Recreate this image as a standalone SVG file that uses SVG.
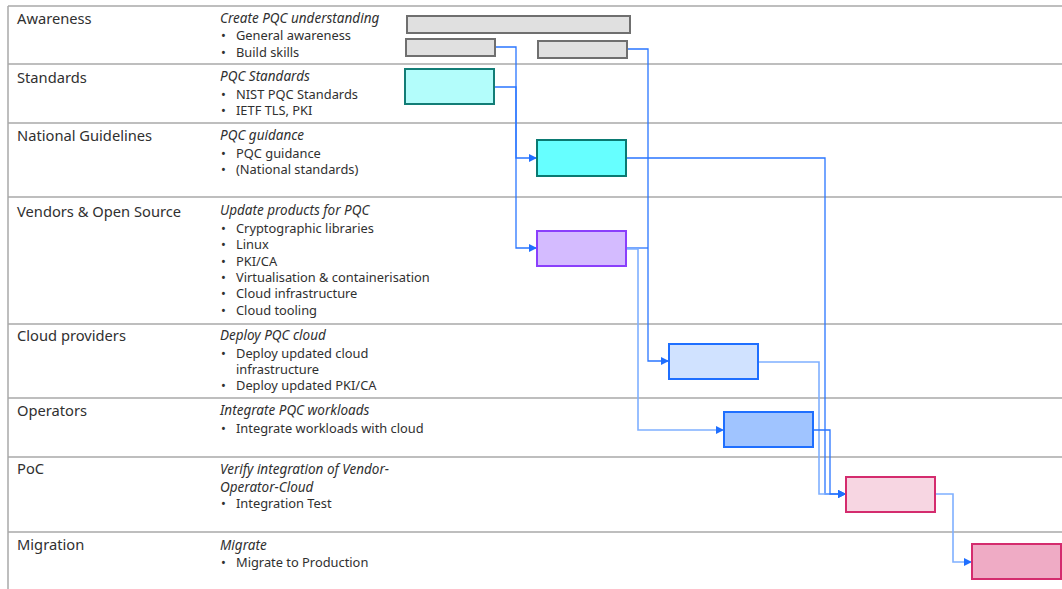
<svg xmlns="http://www.w3.org/2000/svg" width="1062" height="589" viewBox="0 0 1062 589">
  <style>
    .grid { stroke: #a8a8a8; stroke-width: 1.5; fill: none; }
    .lane { font-family: "Noto Sans", "Liberation Sans", sans-serif; font-size: 14.7px; fill: #303030; }
    .desc { font-family: "Noto Sans", "Liberation Sans", sans-serif; font-size: 12.85px; fill: #303030; }
    .desc .t { font-style: italic; font-size: 13.5px; }
    .box { stroke-width: 2; }
    .gray { fill: #e0e0e0; stroke: #6f6f6f; }
    .cyan1 { fill: #b3fdfb; stroke: #127d76; }
    .cyan2 { fill: #66ffff; stroke: #0a7a72; }
    .purple { fill: #d4bbff; stroke: #8a3ffc; }
    .blue1 { fill: #d0e2ff; stroke: #1f6fff; }
    .blue2 { fill: #a0c4ff; stroke: #1f6fff; }
    .pink1 { fill: #f7d6e2; stroke: #d42c6e; }
    .pink2 { fill: #efabc5; stroke: #d42c6e; }
    .conn { fill: none; stroke: #2a76ff; stroke-width: 1.3; }
    .conn.soft { stroke: #7fb0ff; stroke-width: 1.6; }
  </style>
  <defs>
    <marker id="arrow" viewBox="0 0 10 10" refX="10" refY="5" markerWidth="8" markerHeight="8" markerUnits="userSpaceOnUse" orient="auto">
      <path d="M0,0 L10,5 L0,10 z" fill="#1f6fff"/>
    </marker>
  </defs>

  <rect width="1062" height="589" fill="#ffffff"/>

  <!-- swimlane grid -->
  <g id="grid" class="grid">
    <line x1="8" y1="6" x2="1062" y2="6"/>
    <line x1="8" y1="64" x2="1062" y2="64"/>
    <line x1="8" y1="123" x2="1062" y2="123"/>
    <line x1="8" y1="197" x2="1062" y2="197"/>
    <line x1="8" y1="324" x2="1062" y2="324"/>
    <line x1="8" y1="398" x2="1062" y2="398"/>
    <line x1="8" y1="457" x2="1062" y2="457"/>
    <line x1="8" y1="532" x2="1062" y2="532"/>
    <line x1="8" y1="6" x2="8" y2="589"/>
  </g>

  <!-- lane titles and descriptions -->
  <g id="lane-awareness">
    <text class="lane" x="17" y="24">Awareness</text>
    <text class="desc" x="220" y="23"><tspan class="t">Create PQC understanding</tspan>
      <tspan x="221" y="40">•</tspan><tspan x="236" y="40">General awareness</tspan>
      <tspan x="221" y="57">•</tspan><tspan x="236" y="57">Build skills</tspan></text>
  </g>
  <g id="lane-standards">
    <text class="lane" x="17" y="83">Standards</text>
    <text class="desc" x="220" y="81"><tspan class="t">PQC Standards</tspan>
      <tspan x="221" y="99">•</tspan><tspan x="236" y="99">NIST PQC Standards</tspan>
      <tspan x="221" y="115">•</tspan><tspan x="236" y="115">IETF TLS, PKI</tspan></text>
  </g>
  <g id="lane-national">
    <text class="lane" x="17" y="141">National Guidelines</text>
    <text class="desc" x="220" y="140"><tspan class="t">PQC guidance</tspan>
      <tspan x="221" y="158">•</tspan><tspan x="236" y="158">PQC guidance</tspan>
      <tspan x="221" y="174">•</tspan><tspan x="236" y="174">(National standards)</tspan></text>
  </g>
  <g id="lane-vendors">
    <text class="lane" x="17" y="217">Vendors &amp; Open Source</text>
    <text class="desc" x="220" y="215"><tspan class="t">Update products for PQC</tspan>
      <tspan x="221" y="233">•</tspan><tspan x="236" y="233">Cryptographic libraries</tspan>
      <tspan x="221" y="249">•</tspan><tspan x="236" y="249">Linux</tspan>
      <tspan x="221" y="266">•</tspan><tspan x="236" y="266">PKI/CA</tspan>
      <tspan x="221" y="282">•</tspan><tspan x="236" y="282">Virtualisation &amp; containerisation</tspan>
      <tspan x="221" y="298">•</tspan><tspan x="236" y="298">Cloud infrastructure</tspan>
      <tspan x="221" y="315">•</tspan><tspan x="236" y="315">Cloud tooling</tspan></text>
  </g>
  <g id="lane-cloud">
    <text class="lane" x="17" y="341">Cloud providers</text>
    <text class="desc" x="220" y="340"><tspan class="t">Deploy PQC cloud</tspan>
      <tspan x="221" y="358">•</tspan><tspan x="236" y="358">Deploy updated cloud</tspan>
      <tspan x="236" y="374">infrastructure</tspan>
      <tspan x="221" y="390">•</tspan><tspan x="236" y="390">Deploy updated PKI/CA</tspan></text>
  </g>
  <g id="lane-operators">
    <text class="lane" x="17" y="416">Operators</text>
    <text class="desc" x="220" y="415"><tspan class="t">Integrate PQC workloads</tspan>
      <tspan x="221" y="433">•</tspan><tspan x="236" y="433">Integrate workloads with cloud</tspan></text>
  </g>
  <g id="lane-poc">
    <text class="lane" x="17" y="474">PoC</text>
    <text class="desc" x="220" y="474"><tspan class="t">Verify integration of Vendor-</tspan>
      <tspan class="t" x="220" y="492">Operator-Cloud</tspan>
      <tspan x="221" y="508">•</tspan><tspan x="236" y="508">Integration Test</tspan></text>
  </g>
  <g id="lane-migration">
    <text class="lane" x="17" y="550">Migration</text>
    <text class="desc" x="220" y="550"><tspan class="t">Migrate</tspan>
      <tspan x="221" y="567">•</tspan><tspan x="236" y="567">Migrate to Production</tspan></text>
  </g>

  <!-- connectors -->
  <g id="connectors">
    <path class="conn" d="M495,47 H516 V158 H537" marker-end="url(#arrow)"/>
    <path class="conn" d="M494,87 H516 V248 H537" marker-end="url(#arrow)" stroke-width="2"/>
    <path class="conn" d="M627,49 H648 V361 H669" marker-end="url(#arrow)"/>
    <path class="conn" d="M626,248 H648"/>
    <path class="conn soft" d="M626,249 H638 V430 H724" marker-end="url(#arrow)"/>
    <path class="conn" d="M626,158 H825 V494 H846" marker-end="url(#arrow)"/>
    <path class="conn soft" d="M758,362 H819 V494 H846" marker-end="url(#arrow)"/>
    <path class="conn" d="M813,430 H830 V494 H846" marker-end="url(#arrow)"/>
    <path class="conn soft" d="M935,494 H953 V562 H972" marker-end="url(#arrow)"/>
  </g>

  <!-- task bars -->
  <g id="awareness-overall"><rect class="box gray" x="407" y="16" width="223" height="17"/></g>
  <g id="awareness-general"><rect class="box gray" x="406" y="39" width="89" height="17"/></g>
  <g id="awareness-skills"><rect class="box gray" x="538" y="41" width="89" height="17"/></g>
  <g id="standards"><rect class="box cyan1" x="405" y="69" width="89" height="35"/></g>
  <g id="national"><rect class="box cyan2" x="537" y="140" width="89" height="36"/></g>
  <g id="vendors"><rect class="box purple" x="537" y="231" width="89" height="35"/></g>
  <g id="cloud"><rect class="box blue1" x="669" y="344" width="89" height="35"/></g>
  <g id="operators"><rect class="box blue2" x="724" y="412" width="89" height="35"/></g>
  <g id="poc"><rect class="box pink1" x="846" y="477" width="89" height="35"/></g>
  <g id="migration"><rect class="box pink2" x="972" y="544" width="89" height="35"/></g>
</svg>
